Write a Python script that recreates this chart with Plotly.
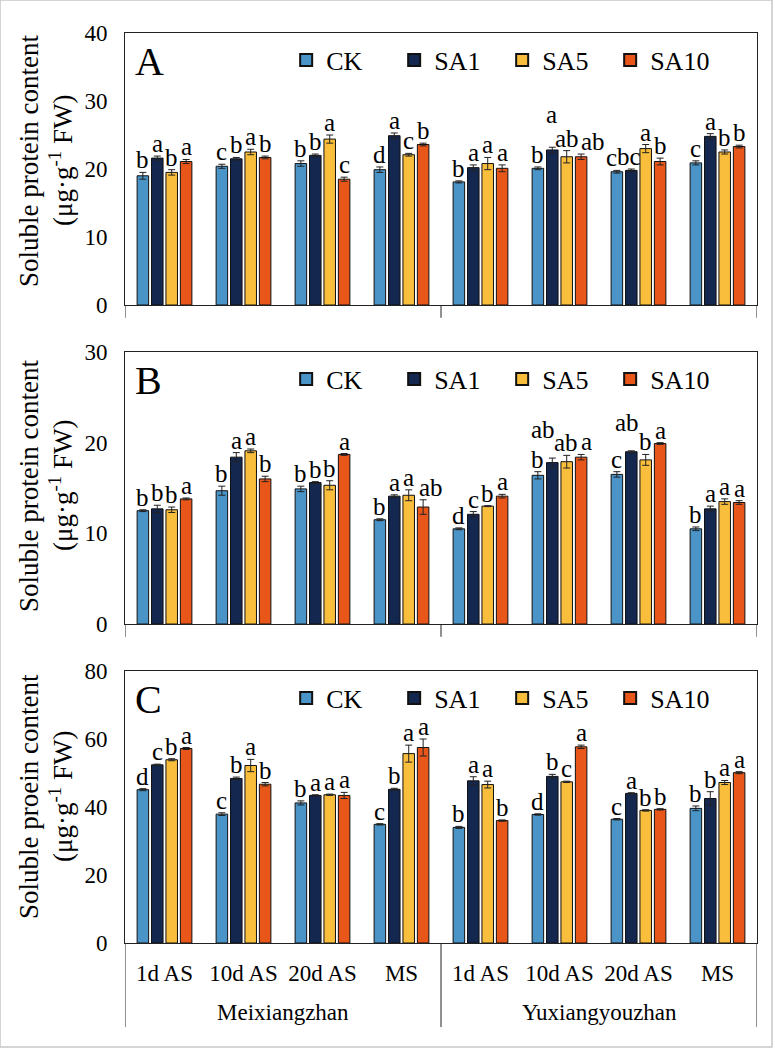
import plotly.graph_objects as go

# ---------------- data ----------------
stages = ["1d AS", "10d AS", "20d AS", "MS", "1d AS", "10d AS", "20d AS", "MS"]
cultivars = ["Meixiangzhan", "Yuxiangyouzhan"]
treatments = ["CK", "SA1", "SA5", "SA10"]

# Panel A
A_CK = [19.0, 20.4, 20.8, 19.9, 18.1, 20.1, 19.6, 20.9]
A_SA1 = [21.6, 21.5, 22.0, 24.9, 20.2, 22.8, 19.8, 24.8]
A_SA5 = [19.5, 22.5, 24.4, 22.1, 20.8, 21.8, 23.0, 22.5]
A_SA10 = [21.1, 21.7, 18.5, 23.6, 20.1, 21.8, 21.1, 23.3]
A_CK_err = [0.5, 0.3, 0.4, 0.4, 0.15, 0.2, 0.2, 0.3]
A_SA1_err = [0.3, 0.2, 0.2, 0.4, 0.4, 0.4, 0.2, 0.4]
A_SA5_err = [0.4, 0.4, 0.6, 0.2, 0.9, 0.9, 0.6, 0.3]
A_SA10_err = [0.3, 0.2, 0.3, 0.2, 0.5, 0.4, 0.5, 0.2]
A_CK_lab = ["b", "c", "b", "d", "b", "b", "c", "c"]
A_SA1_lab = ["a", "b", "b", "a", "a", "a", "bc", "a"]
A_SA5_lab = ["b", "a", "a", "c", "a", "ab", "a", "b"]
A_SA10_lab = ["a", "b", "c", "b", "a", "ab", "b", "b"]

# Panel B
B_CK = [12.5, 14.7, 14.9, 11.5, 10.5, 16.4, 16.5, 10.5]
B_SA1 = [12.7, 18.4, 15.6, 14.1, 12.1, 17.8, 19.0, 12.7]
B_SA5 = [12.6, 19.1, 15.3, 14.2, 13.0, 17.9, 18.1, 13.5]
B_SA10 = [13.8, 16.0, 18.7, 12.9, 14.1, 18.4, 19.9, 13.4]
B_CK_err = [0.1, 0.5, 0.3, 0.1, 0.1, 0.4, 0.3, 0.2]
B_SA1_err = [0.4, 0.5, 0.1, 0.15, 0.3, 0.5, 0.1, 0.3]
B_SA5_err = [0.3, 0.2, 0.5, 0.6, 0.05, 0.7, 0.6, 0.3]
B_SA10_err = [0.1, 0.3, 0.1, 0.8, 0.2, 0.3, 0.1, 0.2]
B_CK_lab = ["b", "b", "b", "b", "d", "b", "c", "b"]
B_SA1_lab = ["b", "a", "b", "a", "c", "ab", "ab", "a"]
B_SA5_lab = ["b", "a", "b", "a", "b", "ab", "b", "a"]
B_SA10_lab = ["a", "b", "a", "ab", "a", "a", "a", "a"]

# Panel C
C_CK = [45.1, 37.9, 41.2, 34.9, 34.0, 37.8, 36.4, 39.6]
C_SA1 = [52.4, 48.4, 43.4, 45.2, 47.7, 49.0, 44.0, 42.5]
C_SA5 = [53.9, 52.2, 43.6, 55.7, 46.6, 47.4, 39.0, 47.2]
C_SA10 = [57.2, 46.7, 43.4, 57.5, 36.0, 57.7, 39.3, 50.1]
C_CK_err = [0.3, 0.4, 0.6, 0.2, 0.3, 0.2, 0.2, 0.7]
C_SA1_err = [0.2, 0.4, 0.2, 0.3, 1.2, 0.6, 0.2, 2.0]
C_SA5_err = [0.3, 1.8, 0.2, 2.5, 1.0, 0.2, 0.2, 0.6]
C_SA10_err = [0.3, 0.5, 0.9, 2.5, 0.2, 0.5, 0.2, 0.3]
C_CK_lab = ["d", "c", "b", "c", "b", "d", "c", "b"]
C_SA1_lab = ["c", "b", "a", "b", "a", "b", "a", "b"]
C_SA5_lab = ["b", "a", "a", "a", "a", "c", "b", "a"]
C_SA10_lab = ["a", "b", "a", "a", "b", "a", "b", "a"]

y_title_line1 = ["Soluble protein content", "Soluble protein content",
                 "Soluble proein content"]
y_title_line2 = ["(μg·g<sup>-1</sup> FW)", "(μg·g<sup>-1</sup> FW)",
                 "(μg·g<sup>-1</sup> FW)"]
panel_letters = ["A", "B", "C"]
y_ranges = [[0, 40], [0, 30], [0, 80]]
y_dticks = [10, 10, 20]

# ---------------- style ----------------
colors = ["#4A94C8", "#14274F", "#F9BE3C", "#E8561A"]
FONT = "Liberation Serif"
BARGAP = 0.27
BARGROUPGAP = 0.2

# pixel nudges for crowded significance letters: (panel, group, treatment) -> (dx, dy)
label_nudges = {
    (0, 5, 1): (-1, 20), (0, 5, 2): (0, 0), (0, 5, 3): (12, 0),
    (0, 6, 0): (-5, 0), (0, 6, 1): (-2, 0),
    (1, 3, 3): (8, 0),
    (1, 5, 1): (-9, 16), (1, 5, 2): (-1, 0), (1, 5, 3): (5, 0),
    (1, 6, 1): (-4, 16),
}
title_yshift = [8, 2, 10]

panels = [
    ([A_CK, A_SA1, A_SA5, A_SA10], [A_CK_err, A_SA1_err, A_SA5_err, A_SA10_err],
     [A_CK_lab, A_SA1_lab, A_SA5_lab, A_SA10_lab]),
    ([B_CK, B_SA1, B_SA5, B_SA10], [B_CK_err, B_SA1_err, B_SA5_err, B_SA10_err],
     [B_CK_lab, B_SA1_lab, B_SA5_lab, B_SA10_lab]),
    ([C_CK, C_SA1, C_SA5, C_SA10], [C_CK_err, C_SA1_err, C_SA5_err, C_SA10_err],
     [C_CK_lab, C_SA1_lab, C_SA5_lab, C_SA10_lab]),
]

domains = [[0.7011, 1.0], [0.3505, 0.6495], [0.0, 0.2989]]

fig = go.Figure()
xs = list(range(len(stages)))
slot = (1 - BARGAP) / len(treatments)
annotations = []

for p, (vals, errs, labs) in enumerate(panels):
    sfx = "" if p == 0 else str(p + 1)
    xa, ya = f"x{sfx}", f"y{sfx}"
    lg = "legend" if p == 0 else f"legend{p+1}"
    for j, t in enumerate(treatments):
        fig.add_trace(go.Bar(
            x=xs, y=vals[j], name=t, xaxis=xa, yaxis=ya, legend=lg,
            offsetgroup=str(j),
            marker=dict(color=colors[j], line=dict(color="#111111", width=1)),
            error_y=dict(type="data", array=errs[j], visible=True,
                         color="#222222", thickness=1, width=3.5),
        ))
        for i in xs:
            dx, dy = label_nudges.get((p, i, j), (0, 0))
            annotations.append(dict(
                text=labs[j][i], xref=xa, yref=ya,
                x=i + (j - 1.5) * slot, y=vals[j][i] + errs[j][i],
                xanchor="center", yanchor="bottom", showarrow=False,
                xshift=dx, yshift=dy - 3,
                font=dict(family=FONT, size=25, color="#000000")))

layout = dict(
    width=775, height=1049,
    margin=dict(l=125, r=18, t=33, b=106),
    barmode="group", bargap=BARGAP, bargroupgap=BARGROUPGAP,
    paper_bgcolor="white", plot_bgcolor="white",
    font=dict(family=FONT, color="#000000"),
    showlegend=True,
)

for p in range(3):
    sfx = "" if p == 0 else str(p + 1)
    layout[f"xaxis{sfx}"] = dict(
        domain=[0, 1], anchor=f"y{sfx}", range=[-0.5, 7.5],
        showgrid=False, zeroline=False,
        showline=True, linecolor="#222222", linewidth=1, mirror=True,
        ticks="", tickvals=xs if p == 2 else [],
        ticktext=stages if p == 2 else [],
        tickfont=dict(family=FONT, size=23, color="#000000"),
        ticklabelstandoff=9,
    )
    layout[f"yaxis{sfx}"] = dict(
        domain=domains[p], anchor=f"x{sfx}", range=y_ranges[p],
        dtick=y_dticks[p], showgrid=False, zeroline=False,
        showline=True, linecolor="#222222", linewidth=1, mirror=True,
        ticks="", ticklabelstandoff=12,
        tickfont=dict(family=FONT, size=23, color="#000000"),
    )
    lkey = "legend" if p == 0 else f"legend{p+1}"
    layout[lkey] = dict(
        orientation="h", x=0.255, xanchor="left",
        y=domains[p][1] - 0.004, yanchor="top",
        bgcolor="rgba(0,0,0,0)", entrywidth=63, entrywidthmode="pixels",
        font=dict(family=FONT, size=26, color="#000000"),
        itemsizing="constant", tracegroupgap=0,
    )

fig.update_layout(**layout)

shapes = []
for p in range(3):
    sfx = "" if p == 0 else str(p + 1)
    xref = f"x{sfx}"
    ydom = f"y{sfx} domain"
    ext = -0.047 if p < 2 else -0.309
    for xb in [-0.5, 3.5, 7.5]:
        shapes.append(dict(type="line", xref=xref, yref=ydom, x0=xb, x1=xb,
                           y0=0, y1=ext, line=dict(color="#222222", width=1)))
    annotations.append(dict(
        text=panel_letters[p], xref=f"x{sfx} domain", yref=ydom,
        x=0.012, y=0.985, xanchor="left", yanchor="top", showarrow=False,
        font=dict(family=FONT, size=40, color="#000000")))
    # y-axis title (two rotated lines)
    for xc, txt in [(29, y_title_line1[p]), (61, y_title_line2[p])]:
        annotations.append(dict(
            text=txt, xref="paper", yref=ydom,
            x=(xc - 125) / 632, y=0.5, xanchor="center", yanchor="middle",
            yshift=title_yshift[p], textangle=-90, showarrow=False,
            font=dict(family=FONT, size=27, color="#000000")))

for k, name in enumerate(cultivars):
    annotations.append(dict(
        text=name, xref="x3", yref="y3 domain", x=1.5 + 4 * k, y=-0.255,
        xanchor="center", yanchor="middle", showarrow=False,
        font=dict(family=FONT, size=23, color="#000000")))

# light grey outer frame
shapes.append(dict(type="rect", xref="paper", yref="paper",
                   x0=-125 / 632, x1=(772 - 125) / 632,
                   y0=(943 - 1047) / 910, y1=(943 - 0) / 910,
                   line=dict(color="#C8C8C8", width=1.5), layer="below"))

fig.update_layout(shapes=shapes, annotations=annotations)
fig.write_html("out.html")
